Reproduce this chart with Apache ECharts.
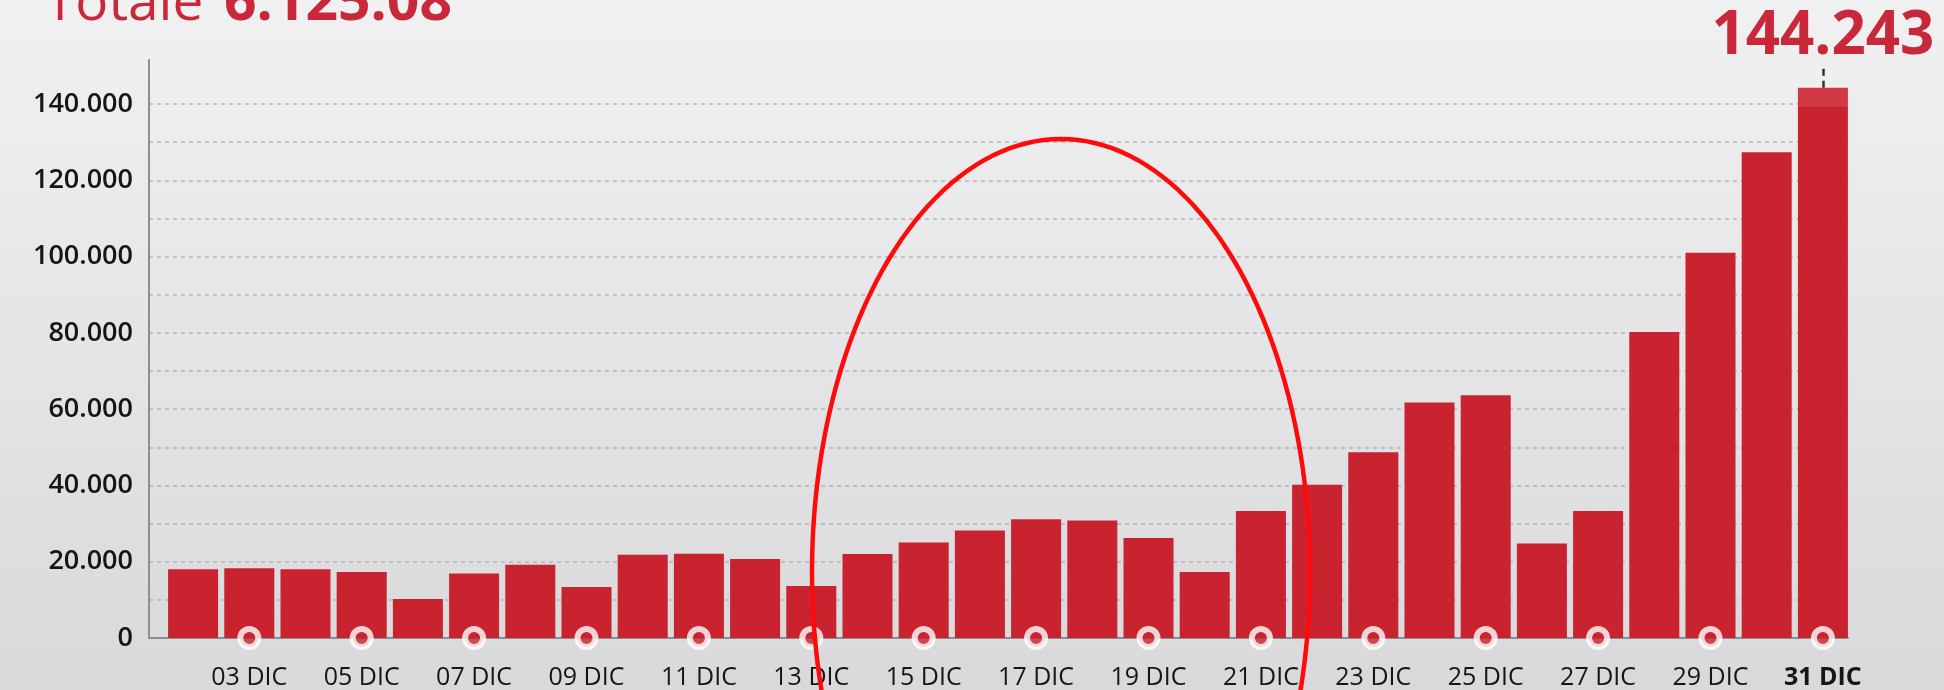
<!DOCTYPE html>
<html>
<head>
<meta charset="utf-8">
<script src="https://cdn.jsdelivr.net/npm/echarts@6/dist/echarts.min.js"></script>
<style>
  html, body { margin: 0; padding: 0; }
  #chart { width: 1944px; height: 690px; }
</style>
</head>
<body>
<div id="chart"></div>
<script>
// Daily counts for December (02 DIC – 31 DIC)
const days = [
  '02 DIC', '03 DIC', '04 DIC', '05 DIC', '06 DIC', '07 DIC', '08 DIC', '09 DIC', '10 DIC', '11 DIC',
  '12 DIC', '13 DIC', '14 DIC', '15 DIC', '16 DIC', '17 DIC', '18 DIC', '19 DIC', '20 DIC', '21 DIC',
  '22 DIC', '23 DIC', '24 DIC', '25 DIC', '26 DIC', '27 DIC', '28 DIC', '29 DIC', '30 DIC', '31 DIC'
];
const dailyValues = [
  18000, 18300, 18000, 17300, 10200, 16900, 19200, 13400, 21800, 22100,
  20700, 13600, 22000, 25000, 28200, 31100, 30800, 26200, 17300, 33300,
  40200, 48700, 61700, 63600, 24800, 33300, 80200, 101000, 127300, 144243
];
// Days that carry a tick label and a dot on the baseline
const labeledDays = [
  '03 DIC', '05 DIC', '07 DIC', '09 DIC', '11 DIC', '13 DIC', '15 DIC', '17 DIC',
  '19 DIC', '21 DIC', '23 DIC', '25 DIC', '27 DIC', '29 DIC', '31 DIC'
];
const highlightDay = '31 DIC';
const titleLabel = 'Totale';
const titleValue = '6.125.08';
const yTickValues = [0, 20000, 40000, 60000, 80000, 100000, 120000, 140000];

const RED = '#c8232f';
const TEXT_RED = '#c8283a';
const FONT = '"Open Sans", "Noto Sans", sans-serif';

function fmt(v) {
  return String(v).replace(/\B(?=(\d{3})+(?!\d))/g, '.');
}

// outline of the red oval annotation (screen pixels)
function ovalPoints(cx, cy, rx, ry, n) {
  const pts = [];
  for (let k = 0; k < n; k++) {
    const t = (k / n) * Math.PI * 2;
    pts.push([cx + rx * Math.cos(t), cy + ry * Math.sin(t)]);
  }
  return pts;
}

const lastIdx = dailyValues.length - 1;
const barData = dailyValues.map((v, i) => {
  if (days[i] !== highlightDay) return v;
  return {
    value: v,
    itemStyle: {
      color: {
        type: 'linear', x: 0, y: 0, x2: 0, y2: 1,
        colorStops: [
          { offset: 0, color: '#d03843' },
          { offset: 0.035, color: '#d03843' },
          { offset: 0.036, color: RED },
          { offset: 1, color: RED }
        ]
      }
    },
    label: {
      show: true,
      position: 'top',
      distance: 21,
      formatter: (p) => fmt(p.value),
      fontFamily: FONT,
      fontWeight: 'bold',
      fontSize: 60,
      color: TEXT_RED
    }
  };
});

const chart = echarts.init(document.getElementById('chart'), null, { renderer: 'canvas' });

chart.setOption({
  animation: false,
  backgroundColor: {
    type: 'linear', x: 0, y: 0, x2: 0, y2: 1,
    colorStops: [
      { offset: 0, color: '#f1f1f2' },
      { offset: 0.55, color: '#e4e4e6' },
      { offset: 1, color: '#d9d9dc' }
    ]
  },
  grid: [
    // frame: y labels, dashed gridlines, baseline
    { left: 149, right: 96, top: 104, bottom: 52 },
    // bars
    { left: 165, right: 93, top: 60, bottom: 52 }
  ],
  xAxis: [
    {
      gridIndex: 0, type: 'value', min: 0, max: 1,
      axisLine: { show: true, lineStyle: { color: '#8e8e92', width: 2 } },
      axisTick: { show: false }, axisLabel: { show: false }, splitLine: { show: false }
    },
    {
      gridIndex: 1, type: 'category', data: days,
      axisLine: { show: false }, axisTick: { show: false },
      axisLabel: {
        interval: (i, v) => labeledDays.includes(v),
        margin: 27,
        fontFamily: FONT,
        fontSize: 25,
        fontWeight: 500,
        color: '#151515',
        formatter: (v) => (v === highlightDay ? '{b|' + v + '}' : v),
        rich: { b: { fontFamily: FONT, fontSize: 25, fontWeight: 'bold', color: '#151515' } }
      }
    }
  ],
  yAxis: [
    {
      gridIndex: 0, type: 'value', min: 0, max: 140000, interval: 10000,
      axisLine: { show: false }, axisTick: { show: false },
      axisLabel: {
        formatter: (v) => (yTickValues.includes(v) ? fmt(v) : ''),
        margin: 16,
        fontFamily: FONT,
        fontSize: 27,
        fontWeight: 600,
        color: '#151515'
      },
      splitLine: { show: true, lineStyle: { color: '#b4b4b9', width: 1.5, type: [4, 4] } }
    },
    {
      gridIndex: 1, type: 'value', min: 0, max: 151500, offset: 16,
      axisLine: { show: true, lineStyle: { color: '#8e8e92', width: 2 } },
      axisTick: { show: false }, axisLabel: { show: false }, splitLine: { show: false }
    }
  ],
  series: [
    {
      type: 'bar',
      xAxisIndex: 1, yAxisIndex: 1,
      data: barData,
      barCategoryGap: '11%',
      itemStyle: { color: RED },
      z: 3,
      markLine: {
        silent: true,
        symbol: 'none',
        label: { show: false },
        lineStyle: { color: '#333', width: 2.5, type: [7, 5] },
        data: [[
          { coord: [highlightDay, dailyValues[lastIdx]] },
          { coord: [highlightDay, 150000] }
        ]]
      }
    },
    {
      type: 'scatter',
      xAxisIndex: 1, yAxisIndex: 1,
      data: labeledDays.map((d) => [d, 0]),
      symbol: 'circle',
      symbolSize: 18,
      itemStyle: { color: RED, borderColor: '#ffffff', borderWidth: 6 },
      clip: false,
      silent: true,
      z: 5
    }
  ],
  graphic: [
    {
      type: 'text', x: 45, y: 4, z: 10,
      style: {
        text: titleLabel, fill: TEXT_RED,
        font: 'normal 55px ' + FONT, verticalAlign: 'middle'
      }
    },
    {
      type: 'text', x: 224, y: 4, z: 10,
      style: {
        text: titleValue, fill: TEXT_RED,
        font: 'bold 57px ' + FONT, verticalAlign: 'middle'
      }
    },
    {
      // hand-drawn style red oval around the mid-December bars
      type: 'polygon', z: 100, silent: true,
      shape: { points: ovalPoints(1061, 572, 249, 433, 180) },
      style: { fill: 'none', stroke: '#ff0a0a', lineWidth: 4.5 }
    }
  ]
});
</script>
</body>
</html>
